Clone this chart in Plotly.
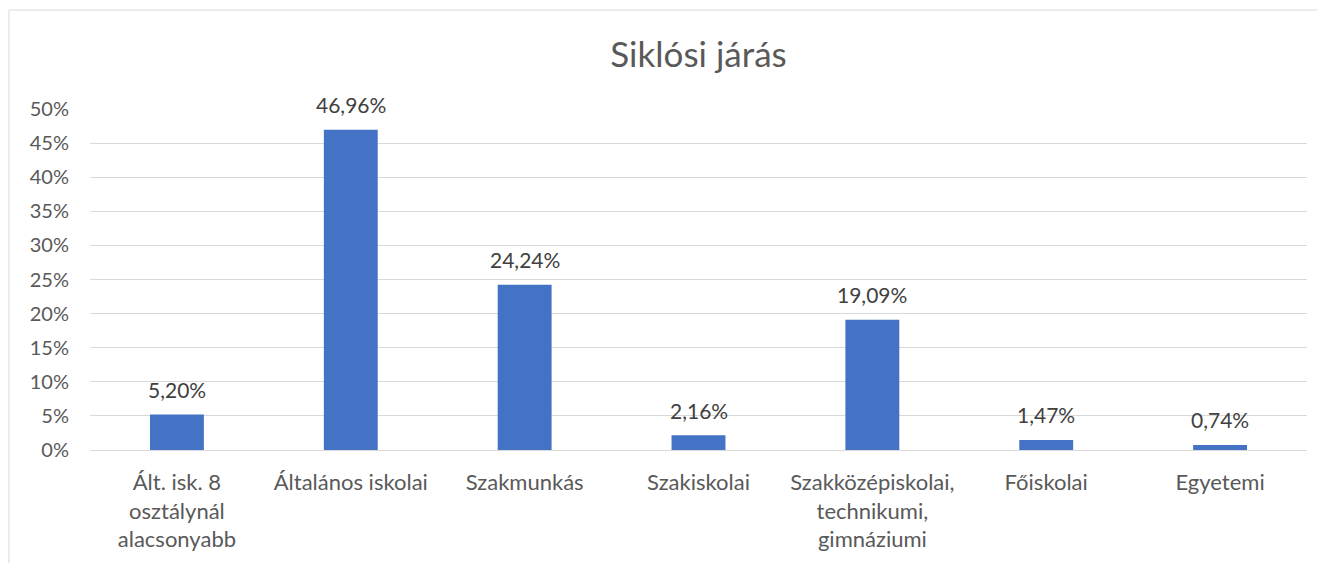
import plotly.graph_objects as go

categories = [
    "Ált. isk. 8<br>osztálynál<br>alacsonyabb",
    "Általános iskolai",
    "Szakmunkás",
    "Szakiskolai",
    "Szakközépiskolai,<br>technikumi,<br>gimnáziumi",
    "Főiskolai",
    "Egyetemi",
]
values = [0.0520, 0.4696, 0.2424, 0.0216, 0.1909, 0.0147, 0.0074]
value_labels = ["5,20%", "46,96%", "24,24%", "2,16%", "19,09%", "1,47%", "0,74%"]
tick_vals = [0, 0.05, 0.10, 0.15, 0.20, 0.25, 0.30, 0.35, 0.40, 0.45, 0.50]
tick_text = ["0%", "5%", "10%", "15%", "20%", "25%", "30%", "35%", "40%", "45%", "50%"]
title = "Siklósi járás"

FONT = "Lato"
fig = go.Figure()
fig.add_trace(go.Bar(
    x=categories, y=values,
    marker=dict(color="#4472C4", line=dict(width=0)),
    hoverinfo="skip",
))

for c, v, t in zip(categories, values, value_labels):
    fig.add_annotation(x=c, y=v, text=t, showarrow=False, yshift=25,
                       yanchor="middle", font=dict(family=FONT, size=21, color="#404040"))

fig.update_layout(
    width=1325, height=563,
    margin=dict(l=82, r=26, t=101, b=121),
    paper_bgcolor="white", plot_bgcolor="white",
    bargap=0.69,
    showlegend=False,
    title=dict(text=title, x=0.5, xref="paper", xanchor="center",
               y=1 - 47 / 563, yref="container", yanchor="middle",
               font=dict(family=FONT, size=35, color="#595959")),
    font=dict(family=FONT, size=20, color="#595959"),
    xaxis=dict(showgrid=False, showline=False, ticks="", ticklabelstandoff=17,
               tickfont=dict(family=FONT, size=22, color="#595959")),
    yaxis=dict(range=[0, 0.5], tickvals=tick_vals, ticktext=tick_text,
               showgrid=True, gridcolor="#d9d9d9", gridwidth=1,
               zeroline=True, zerolinecolor="#d9d9d9", zerolinewidth=1,
               showline=False, ticks="", ticklabelstandoff=20,
               tickfont=dict(family=FONT, size=20, color="#595959")),
    shapes=[dict(type="rect", xref="paper", yref="paper",
                 x0=(9 - 90) / 1217, x1=(1340 - 90) / 1217,
                 y0=(450 - 580) / 341, y1=(450 - 10) / 341,
                 line=dict(color="#d9d9d9", width=1), fillcolor="rgba(0,0,0,0)", layer="below")],
)

fig.write_html("out.html")
